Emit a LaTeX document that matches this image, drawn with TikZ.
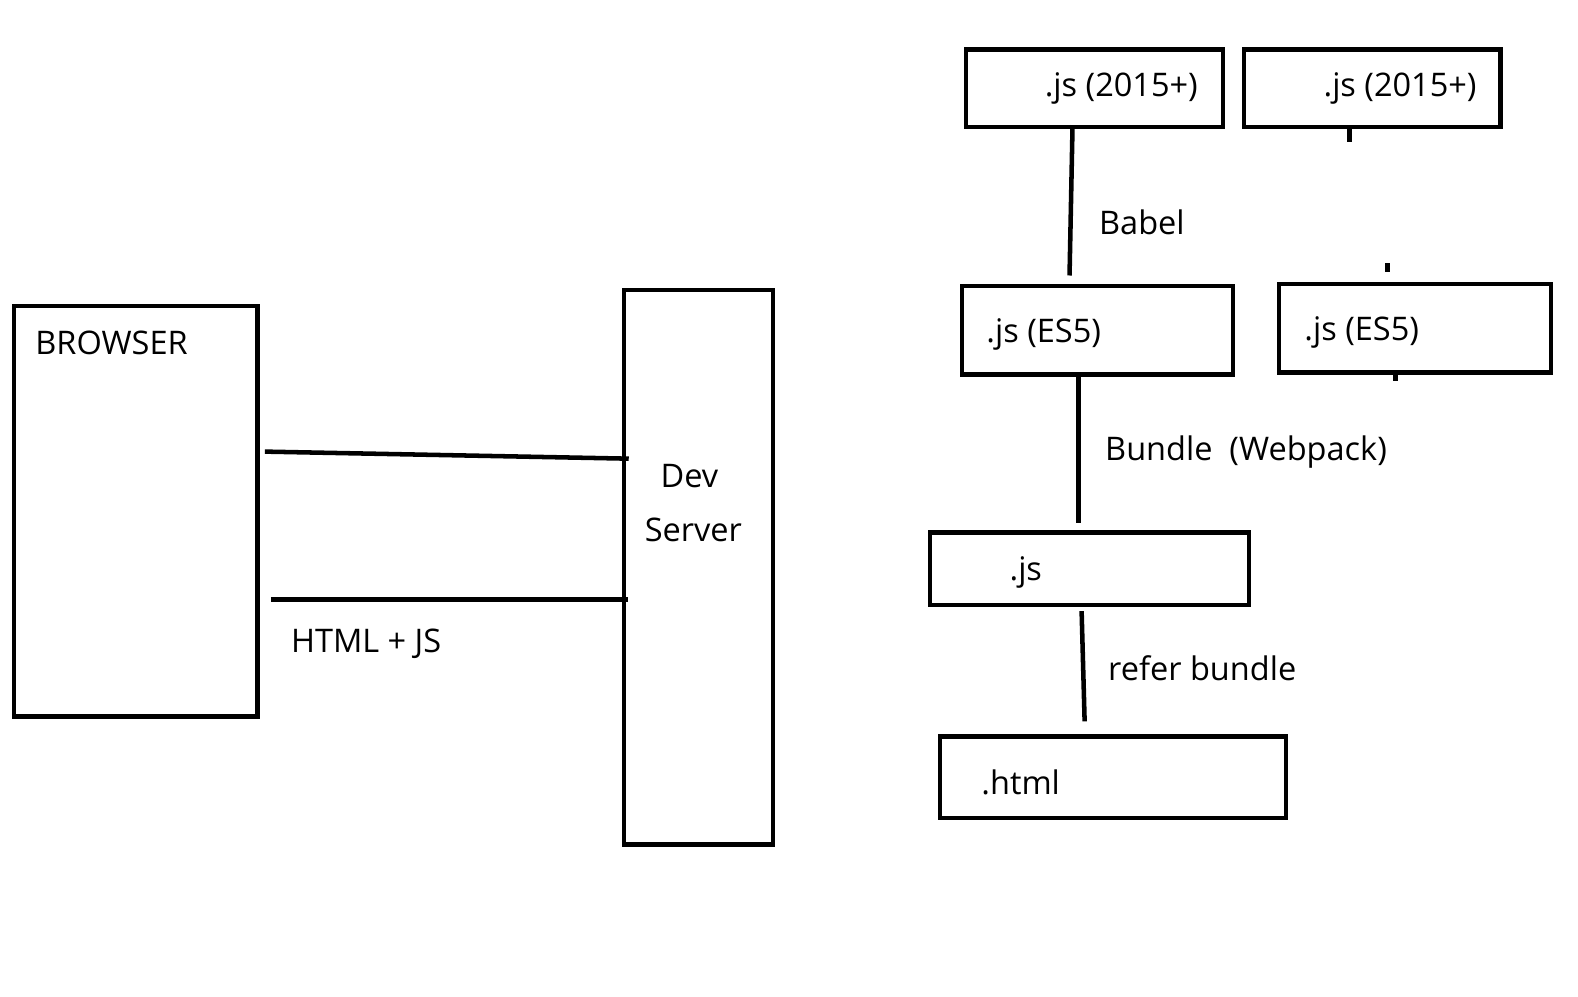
\documentclass[tikz,border=0pt]{standalone}
\usepackage{fontspec}
\setmainfont{Open Sans}
\usetikzlibrary{calc}
\begin{document}
\begin{tikzpicture}[x=1pt,y=-1pt,
  box/.style={draw,line width=4.5pt,inner sep=0pt,minimum width=#1},
  wire/.style={line width=4.5pt},
  lbl/.style={anchor=west,inner sep=0pt,font=\fontsize{32.3}{38}\selectfont},
  clbl/.style={anchor=center,inner sep=0pt,font=\fontsize{32.3}{38}\selectfont}]
\useasboundingbox[fill=white] (0,0) rectangle (1568,990);

% left side: browser and dev server
\node[box=242,minimum height=408] (browser) at (135,508) {};
\node[box=148,minimum height=551] (dev) at (694,563.5) {};
\node[lbl] (tbrowser) at (35,341) {BROWSER};
\node[clbl] (tdev) at (685,473) {Dev};
\node[clbl] (tserver) at (689,527) {Server};
\node[lbl] (thtml) at (289,640) {HTML + JS};

\draw[wire] ($(browser.north east)+(5,147)$) -- ($(dev.north west)+(7,170)$);
\draw[wire] ($(browser.north east)+(11,294)$) -- ($(dev.north west)+(6,310)$);

% right side: build pipeline
\node[box=255,minimum height=77] (srcA) at (1087.5,87.5) {};
\node[box=255,minimum height=77] (srcB) at (1363.5,87.5) {};
\node[box=269,minimum height=88] (esA) at (1090.5,328) {};
\node[box=270,minimum height=88] (esB) at (1406,326) {};
\node[box=317,minimum height=72] (bundle) at (1082.5,565) {};
\node[box=344,minimum height=81] (page) at (1106,772.5) {};

\node[lbl] (tsrcA) at (1038,88) {.js (2015+)};
\node[lbl] (tsrcB) at (1315,88) {.js (2015+)};
\node[lbl] (tesA) at (980,332) {.js (ES5)};
\node[lbl] (tesB) at (1296,330) {.js (ES5)};
\node[lbl] (tbundle) at (1003,569) {.js};
\node[lbl] (tpage) at (975,777) {.html};

\node[lbl] (tbabel) at (1092,221) {Babel};
\node[lbl] (twebpack) at (1098,449) {Bundle\ \ (Webpack)};
\node[lbl] (trefer) at (1101,664) {refer bundle};

\draw[wire] ($(srcA.south west)+(108,-4)$) -- ($(esA.north west)+(109,-8)$);
\draw[wire] ($(esA.south west)+(118,0)$) -- ($(bundle.north west)+(150,-7)$);
\draw[wire] ($(bundle.south west)+(153,4)$) -- ($(page.north west)+(146,-13)$);

% short stubs around the second column
\draw[wire] ($(srcB.south west)+(107,-2)$) -- ($(srcB.south west)+(107,13)$);
\draw[wire] ($(esB.north west)+(110,-18)$) -- ($(esB.north west)+(110,-9)$);
\draw[wire] ($(esB.south west)+(118,0)$) -- ($(esB.south west)+(118,6)$);
\end{tikzpicture}
\end{document}
